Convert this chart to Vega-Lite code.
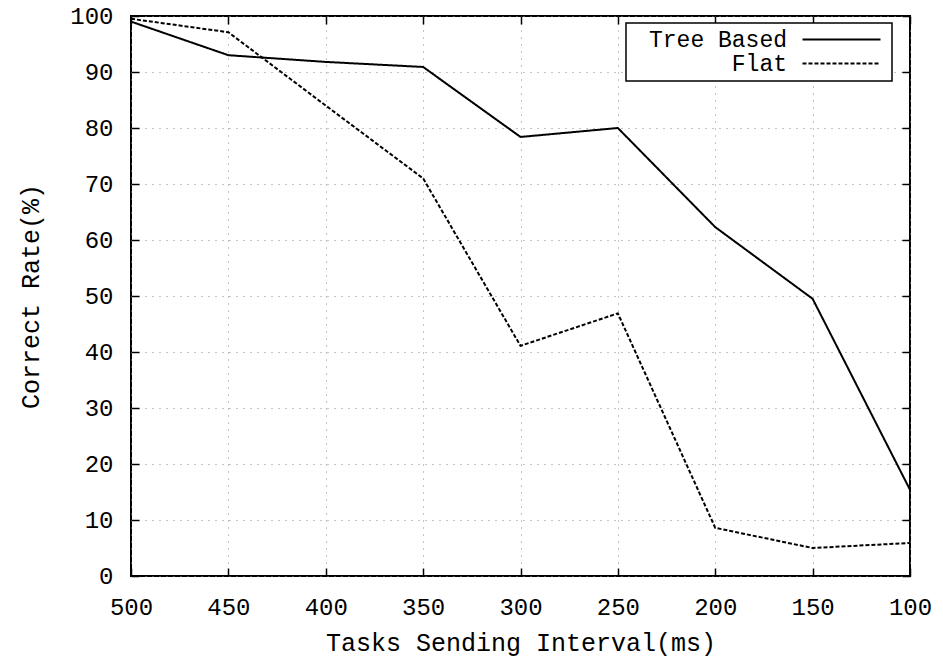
{
  "$schema": "https://vega.github.io/schema/vega-lite/v6.json",
  "width": 779,
  "height": 560,
  "autosize": {"type": "none"},
  "padding": {"left": 131, "top": 16, "right": 33, "bottom": 81},
  "background": "white",
  "config": {
    "font": "Liberation Mono",
    "view": {"stroke": "black", "strokeWidth": 2},
    "legend": {"strokeWidth": 1.5},
    "axis": {
      "labelFont": "Liberation Mono",
      "titleFont": "Liberation Mono",
      "labelFontSize": 24,
      "titleFontSize": 25,
      "labelColor": "black",
      "titleColor": "black",
      "titleFontWeight": "normal",
      "domain": false,
      "tickColor": "black",
      "tickWidth": 1.5,
      "tickSize": -8,
      "labelFlush": false,
      "gridColor": "#888888",
      "gridDash": [1, 6],
      "gridWidth": 1
    }
  },
  "data": {
    "values": [
      {"interval": 500, "rate": 99.0, "series": "Tree Based"},
      {"interval": 450, "rate": 93.0, "series": "Tree Based"},
      {"interval": 400, "rate": 91.8, "series": "Tree Based"},
      {"interval": 350, "rate": 90.9, "series": "Tree Based"},
      {"interval": 300, "rate": 78.4, "series": "Tree Based"},
      {"interval": 250, "rate": 80.0, "series": "Tree Based"},
      {"interval": 200, "rate": 62.3, "series": "Tree Based"},
      {"interval": 150, "rate": 49.5, "series": "Tree Based"},
      {"interval": 100, "rate": 15.4, "series": "Tree Based"},
      {"interval": 500, "rate": 99.5, "series": "Flat"},
      {"interval": 450, "rate": 97.1, "series": "Flat"},
      {"interval": 400, "rate": 84.0, "series": "Flat"},
      {"interval": 350, "rate": 71.0, "series": "Flat"},
      {"interval": 300, "rate": 41.1, "series": "Flat"},
      {"interval": 250, "rate": 46.9, "series": "Flat"},
      {"interval": 200, "rate": 8.6, "series": "Flat"},
      {"interval": 150, "rate": 5.0, "series": "Flat"},
      {"interval": 100, "rate": 5.9, "series": "Flat"}
    ]
  },
  "layer": [
    {
      "mark": {"type": "line", "color": "black", "strokeWidth": 2},
      "encoding": {
        "x": {
          "field": "interval", "type": "quantitative",
          "scale": {"domain": [500, 100], "nice": false, "zero": false},
          "axis": {"values": [500, 450, 400, 350, 300, 250, 200, 150, 100], "title": "Tasks Sending Interval(ms)", "labelPadding": 27, "titlePadding": 11}
        },
        "y": {
          "field": "rate", "type": "quantitative",
          "scale": {"domain": [0, 100], "nice": false},
          "axis": {"values": [0, 10, 20, 30, 40, 50, 60, 70, 80, 90, 100], "title": "Correct Rate(%)", "labelPadding": 26, "titleX": -101, "titleY": 280, "titleAlign": "center", "titleBaseline": "middle"}
        },
        "strokeDash": {
          "field": "series", "type": "nominal",
          "scale": {"domain": ["Tree Based", "Flat"], "range": [[1, 0], [4, 2]]},
          "legend": {
            "title": null,
            "orient": "none",
            "legendX": 495,
            "legendY": 7,
            "strokeColor": "black",
            "fillColor": "white",
            "padding": 5,
            "labelFont": "Liberation Mono",
            "labelFontSize": 23,
            "labelColor": "black",
            "labelAlign": "right",
            "labelOffset": 133,
            "symbolType": "M16,0H23.8M24,0",
            "symbolSize": 400,
            "symbolStrokeWidth": 2,
            "symbolStrokeColor": "black",
            "symbolFillColor": "transparent",
            "rowPadding": 0,
            "labelLimit": 300
          }
        }
      }
    },
    {
      "mark": {"type": "line", "strokeOpacity": 0},
      "encoding": {
        "x": {
          "field": "interval", "type": "quantitative",
          "axis": {"orient": "top", "values": [500, 450, 400, 350, 300, 250, 200, 150, 100], "labels": false, "title": null, "grid": false}
        },
        "y": {
          "field": "rate", "type": "quantitative",
          "axis": {"orient": "right", "values": [0, 10, 20, 30, 40, 50, 60, 70, 80, 90, 100], "labels": false, "title": null, "grid": false}
        },
        "detail": {"field": "series"}
      }
    }
  ],
  "resolve": {"axis": {"x": "independent", "y": "independent"}}
}
